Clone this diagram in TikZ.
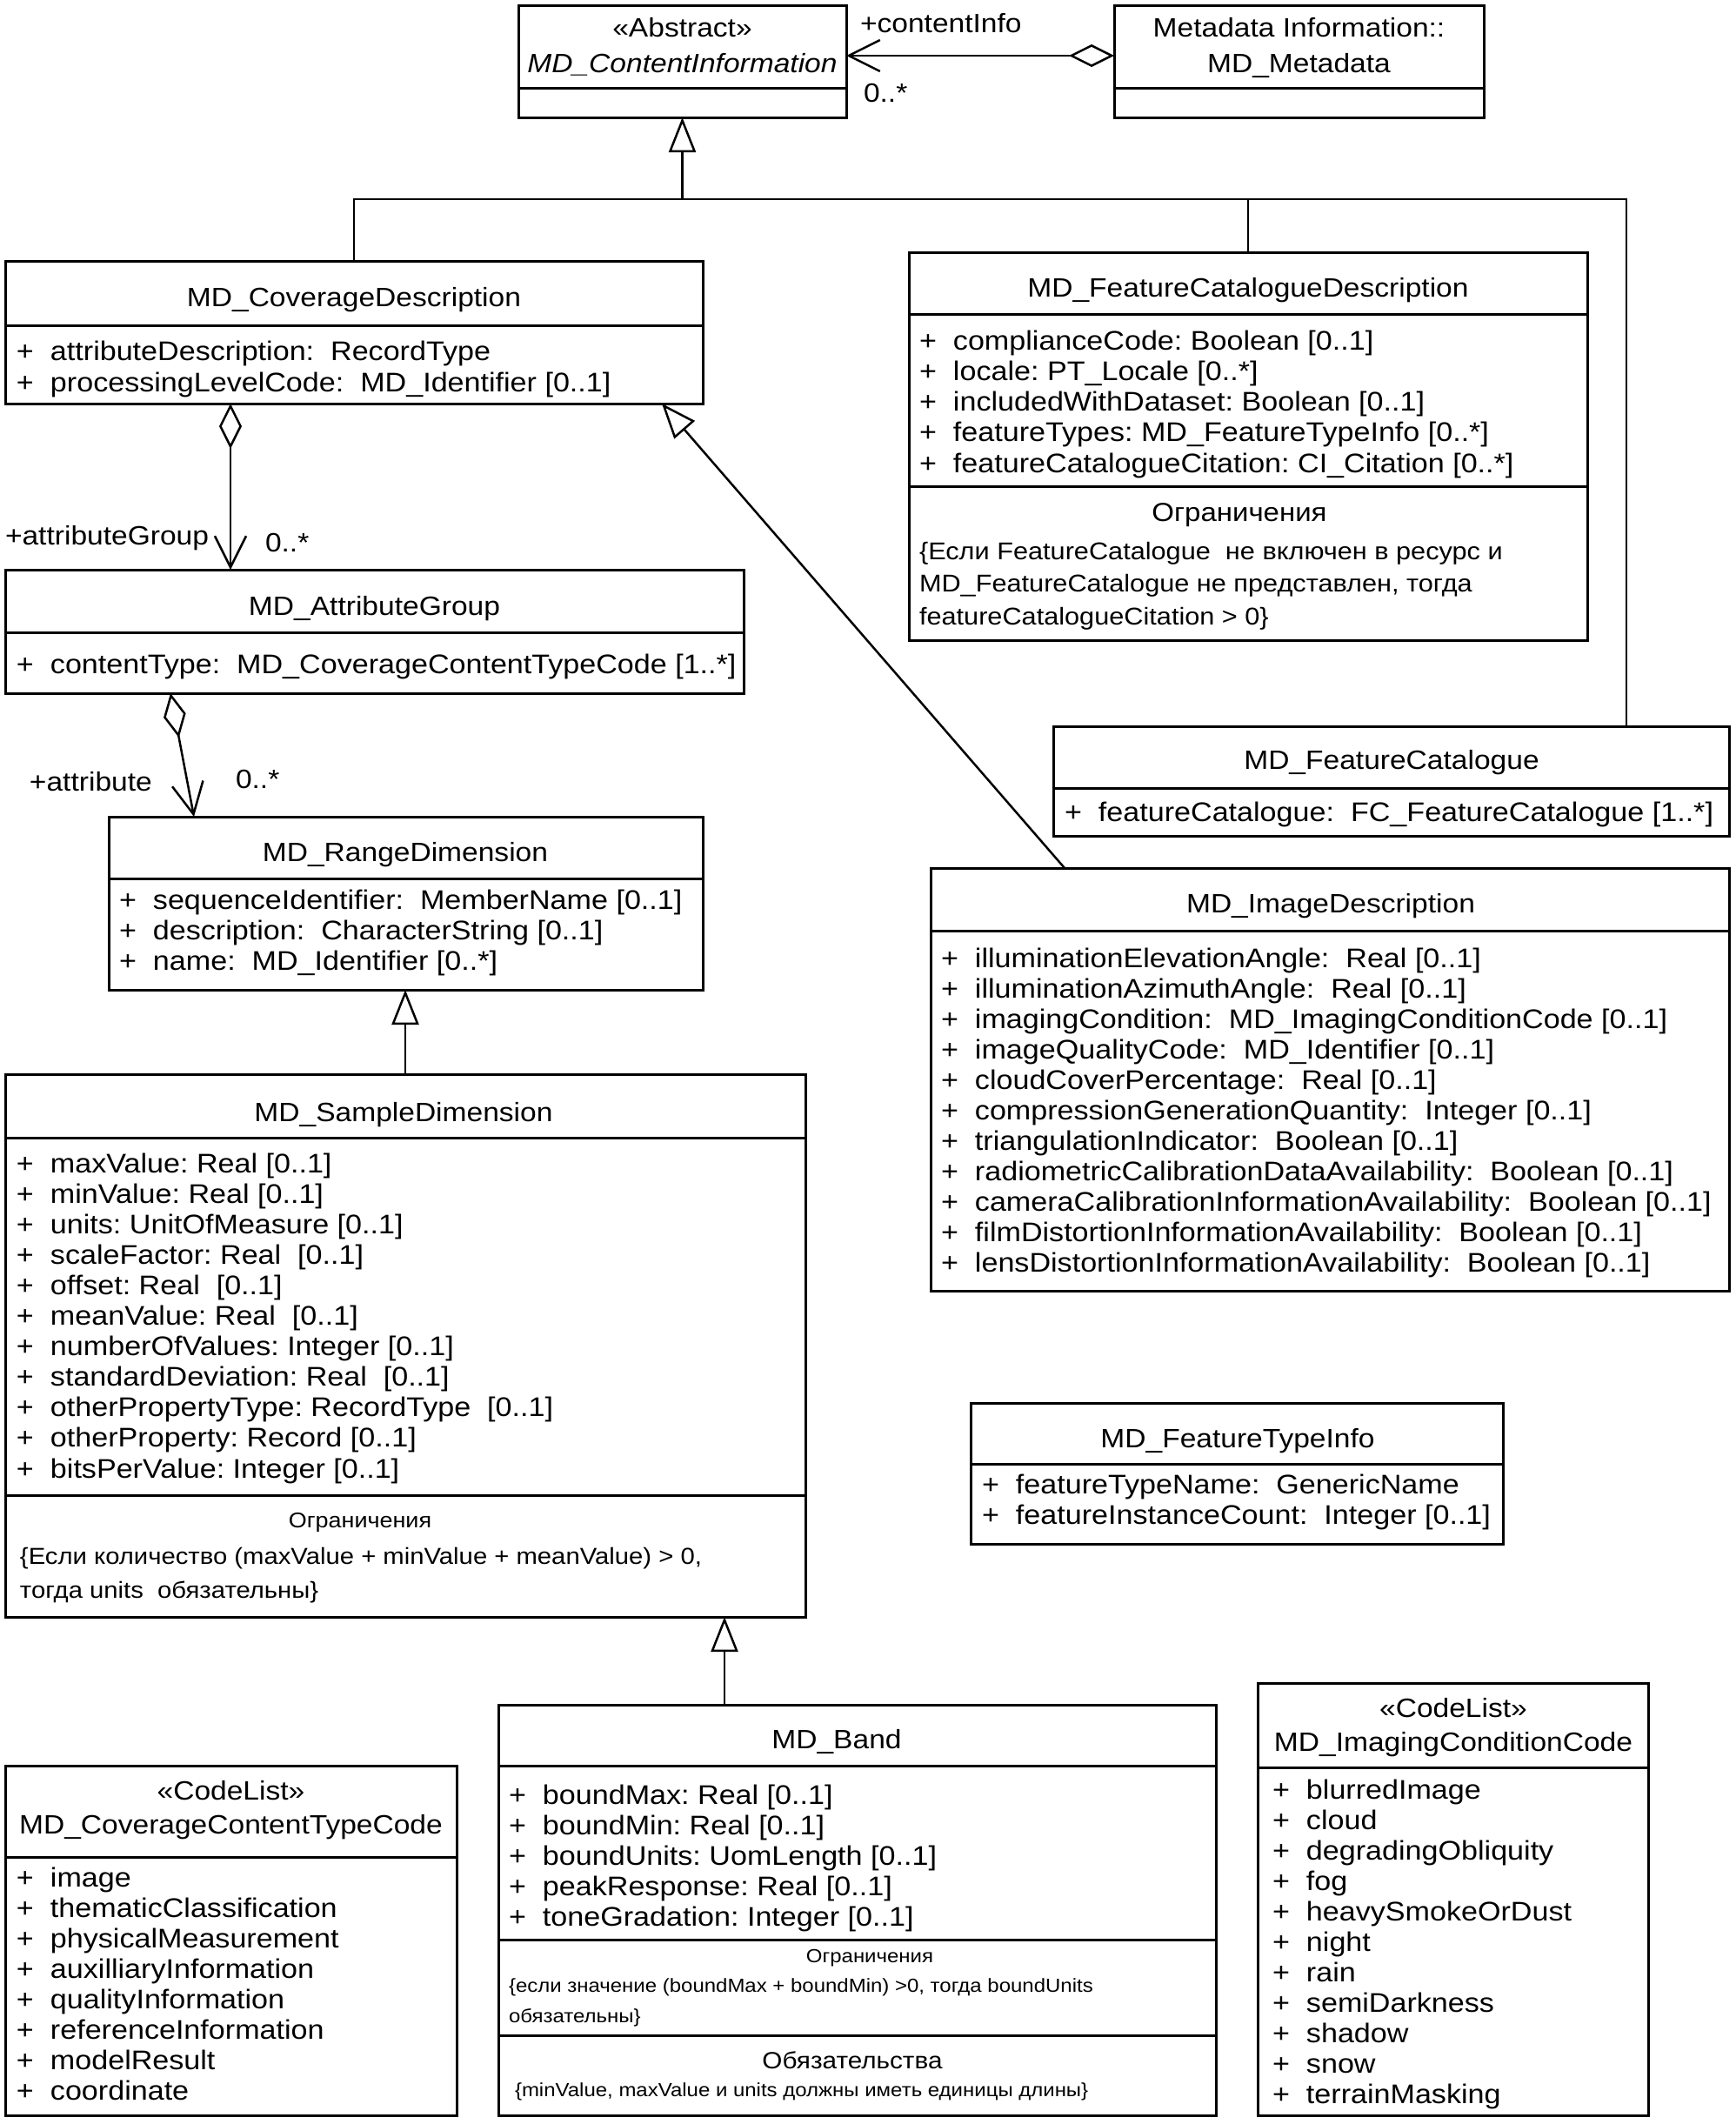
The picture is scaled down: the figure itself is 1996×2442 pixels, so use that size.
\documentclass[tikz,border=0pt]{standalone}
\usepackage{fontspec}
\setmainfont{Liberation Sans}[FakeStretch=1.1]
\usetikzlibrary{arrows.meta}
\newcommand{\attrlist}[5]{%
  \foreach \itm [count=\n] in {#5} {
    \node[txt, anchor=base west, font=\fontsize{31}{35}\selectfont] (#1-\n) at (#2, {#3+#4*(\n-1)}) {\makebox[39pt][l]{+}\itm};
  }}
\begin{document}
\begin{tikzpicture}[x=1pt, y=-1pt,
  box/.style={draw, line width=3pt, inner sep=0pt, outer sep=0pt, anchor=north west},
  sepline/.style={line width=3pt},
  txt/.style={inner sep=0pt, outer sep=0pt, font=\fontsize{30.5}{35}\selectfont},
  conn/.style={line width=2.5pt},
  gen/.style={conn, -{Triangle[open, length=40pt, width=31pt]}},
  agg/.style={conn, {Diamond[open, length=52pt, width=26pt]}-{Straight Barb[length=36pt, width=36pt]}},
]
\fill[white] (0,0) rectangle (1996,2442);
\useasboundingbox (0,0) rectangle (1996,2442);

% ---------- boxes ----------
\node[box, minimum width=377pt, minimum height=129pt] (ci) at (596,6) {};
\draw[sepline] (ci.west |- 0,101) -- (ci.east |- 0,101);
\node[box, minimum width=425pt, minimum height=129pt] (md) at (1281,6) {};
\draw[sepline] (md.west |- 0,101) -- (md.east |- 0,101);
\node[box, minimum width=802pt, minimum height=164pt] (cov) at (6,300) {};
\draw[sepline] (cov.west |- 0,374) -- (cov.east |- 0,374);
\node[box, minimum width=780pt, minimum height=446pt] (fcd) at (1045,290) {};
\draw[sepline] (fcd.west |- 0,361) -- (fcd.east |- 0,361);
\draw[sepline] (fcd.west |- 0,559) -- (fcd.east |- 0,559);
\node[box, minimum width=849pt, minimum height=142pt] (ag) at (6,655) {};
\draw[sepline] (ag.west |- 0,727) -- (ag.east |- 0,727);
\node[box, minimum width=777pt, minimum height=126pt] (fc) at (1211,835) {};
\draw[sepline] (fc.west |- 0,906) -- (fc.east |- 0,906);
\node[box, minimum width=683pt, minimum height=199pt] (rd) at (125,939) {};
\draw[sepline] (rd.west |- 0,1010) -- (rd.east |- 0,1010);
\node[box, minimum width=918pt, minimum height=486pt] (id) at (1070,998) {};
\draw[sepline] (id.west |- 0,1070) -- (id.east |- 0,1070);
\node[box, minimum width=920pt, minimum height=624pt] (sd) at (6,1235) {};
\draw[sepline] (sd.west |- 0,1308) -- (sd.east |- 0,1308);
\draw[sepline] (sd.west |- 0,1719) -- (sd.east |- 0,1719);
\node[box, minimum width=612pt, minimum height=162pt] (fti) at (1116,1613) {};
\draw[sepline] (fti.west |- 0,1683) -- (fti.east |- 0,1683);
\node[box, minimum width=825pt, minimum height=472pt] (band) at (573,1960) {};
\draw[sepline] (band.west |- 0,2030) -- (band.east |- 0,2030);
\draw[sepline] (band.west |- 0,2230) -- (band.east |- 0,2230);
\draw[sepline] (band.west |- 0,2340) -- (band.east |- 0,2340);
\node[box, minimum width=519pt, minimum height=402pt] (cctc) at (6,2030) {};
\draw[sepline] (cctc.west |- 0,2135) -- (cctc.east |- 0,2135);
\node[box, minimum width=449pt, minimum height=497pt] (icc) at (1446,1935) {};
\draw[sepline] (icc.west |- 0,2032) -- (icc.east |- 0,2032);

% ---------- titles ----------
\node[txt, anchor=base] (ci-s) at (784.5,42) {«Abstract»};
\node[txt, anchor=base] (ci-t) at (784.5,83) {\itshape MD\_ContentInformation};
\node[txt, anchor=base] (md-s) at (1493.5,42) {Metadata Information::};
\node[txt, anchor=base] (md-t) at (1493.5,83) {MD\_Metadata};
\node[txt, anchor=base] (cov-t) at (407,352) {MD\_CoverageDescription};
\node[txt, anchor=base] (fcd-t) at (1435,341) {MD\_FeatureCatalogueDescription};
\node[txt, anchor=base] (ag-t) at (430.5,707) {MD\_AttributeGroup};
\node[txt, anchor=base] (fc-t) at (1600,884) {MD\_FeatureCatalogue};
\node[txt, anchor=base] (rd-t) at (466,990) {MD\_RangeDimension};
\node[txt, anchor=base] (id-t) at (1530,1049) {MD\_ImageDescription};
\node[txt, anchor=base] (sd-t) at (464,1289) {MD\_SampleDimension};
\node[txt, anchor=base] (fti-t) at (1423,1664) {MD\_FeatureTypeInfo};
\node[txt, anchor=base] (band-t) at (962,2010) {MD\_Band};
\node[txt, anchor=base] (cctc-s) at (265.5,2069) {«CodeList»};
\node[txt, anchor=base] (cctc-t) at (265.5,2108) {MD\_CoverageContentTypeCode};
\node[txt, anchor=base] (icc-s) at (1671,1974) {«CodeList»};
\node[txt, anchor=base] (icc-t) at (1671,2013) {MD\_ImagingConditionCode};

% ---------- attributes ----------
\attrlist{cov}{19}{414}{36}{{attributeDescription:\ \ RecordType},{processingLevelCode:\ \ MD\_Identifier [0..1]}}
\attrlist{fcd}{1057}{402}{35.3}{{complianceCode:\ Boolean [0..1]},{locale:\ PT\_Locale [0..*]},{includedWithDataset:\ Boolean [0..1]},{featureTypes:\ MD\_FeatureTypeInfo [0..*]},{featureCatalogueCitation:\ CI\_Citation [0..*]}}
\attrlist{ag}{19}{774}{35}{{contentType:\ \ MD\_CoverageContentTypeCode [1..*]}}
\attrlist{fc}{1224}{944}{35}{{featureCatalogue:\ \ FC\_FeatureCatalogue [1..*]}}
\attrlist{rd}{137}{1045}{35}{{sequenceIdentifier:\ \ MemberName [0..1]},{description:\ \ CharacterString [0..1]},{name:\ \ MD\_Identifier [0..*]}}
\attrlist{id}{1082}{1112}{35}{{illuminationElevationAngle:\ \ Real [0..1]},{illuminationAzimuthAngle:\ \ Real [0..1]},{imagingCondition:\ \ MD\_ImagingConditionCode [0..1]},{imageQualityCode:\ \ MD\_Identifier [0..1]},{cloudCoverPercentage:\ \ Real [0..1]},{compressionGenerationQuantity:\ \ Integer [0..1]},{triangulationIndicator:\ \ Boolean [0..1]},{radiometricCalibrationDataAvailability:\ \ Boolean [0..1]},{cameraCalibrationInformationAvailability:\ \ Boolean [0..1]},{filmDistortionInformationAvailability:\ \ Boolean [0..1]},{lensDistortionInformationAvailability:\ \ Boolean [0..1]}}
\attrlist{sd}{19}{1348}{35.1}{{maxValue:\ Real [0..1]},{minValue:\ Real [0..1]},{units:\ UnitOfMeasure [0..1]},{scaleFactor:\ Real\ \ [0..1]},{offset:\ Real\ \ [0..1]},{meanValue:\ Real\ \ [0..1]},{numberOfValues:\ Integer [0..1]},{standardDeviation:\ Real\ \ [0..1]},{otherPropertyType:\ RecordType\ \ [0..1]},{otherProperty:\ Record [0..1]},{bitsPerValue:\ Integer [0..1]}}
\attrlist{fti}{1129}{1717}{35}{{featureTypeName:\ \ GenericName},{featureInstanceCount:\ \ Integer [0..1]}}
\attrlist{band}{585}{2074}{35}{{boundMax:\ Real [0..1]},{boundMin:\ Real [0..1]},{boundUnits:\ UomLength [0..1]},{peakResponse:\ Real [0..1]},{toneGradation:\ Integer [0..1]}}
\attrlist{cctc}{19}{2169}{35.1}{{image},{thematicClassification},{physicalMeasurement},{auxilliaryInformation},{qualityInformation},{referenceInformation},{modelResult},{coordinate}}
\attrlist{icc}{1463}{2068}{35}{{blurredImage},{cloud},{degradingObliquity},{fog},{heavySmokeOrDust},{night},{rain},{semiDarkness},{shadow},{snow},{terrainMasking}}

% ---------- constraints ----------
\node[txt, anchor=base, font=\fontsize{30}{35}\selectfont] (fcd-ch) at (1425,599) {Ограничения};
\node[txt, anchor=base west, font=\fontsize{27.9}{35}\selectfont] (fcd-c1) at (1057,643) {\{Если FeatureCatalogue\ \ не включен в ресурс и};
\node[txt, anchor=base west, font=\fontsize{27.9}{35}\selectfont] (fcd-c2) at (1057,680) {MD\_FeatureCatalogue не представлен, тогда};
\node[txt, anchor=base west, font=\fontsize{27.9}{35}\selectfont] (fcd-c3) at (1057,718) {featureCatalogueCitation > 0\}};
\node[txt, anchor=base, font=\fontsize{24.5}{35}\selectfont] (sd-ch) at (414,1756) {Ограничения};
\node[txt, anchor=base west, font=\fontsize{26.6}{35}\selectfont] (sd-c1) at (23,1798) {\{Если количество (maxValue + minValue + meanValue) > 0,};
\node[txt, anchor=base west, font=\fontsize{26.6}{35}\selectfont] (sd-c2) at (23,1837) {тогда units\ \ обязательны\}};
\node[txt, anchor=base, font=\fontsize{21.8}{30}\selectfont] (band-ch) at (1000,2256) {Ограничения};
\node[txt, anchor=base west, font=\fontsize{21.8}{30}\selectfont] (band-c1) at (585,2290) {\{если значение (boundMax + boundMin) >0, тогда boundUnits};
\node[txt, anchor=base west, font=\fontsize{21.8}{30}\selectfont] (band-c2) at (585,2325) {обязательны\}};
\node[txt, anchor=base, font=\fontsize{27}{35}\selectfont] (band-oh) at (980,2378) {Обязательства};
\node[txt, anchor=base west, font=\fontsize{21.8}{30}\selectfont] (band-o1) at (592,2410) {\{minValue, maxValue и units должны иметь единицы длины\}};

% ---------- connectors ----------
\coordinate (bus) at (783,229);
\draw[conn] (cov.north) |- (1870,229) -- (1870,0 |- fc.north);
\draw[conn] (fcd.north) -- (fcd.north |- bus);
\draw[gen] (ci.south |- bus) -- (ci.south);
\draw[gen] (1224,0 |- id.north) -- (761,0 |- cov.south);
\draw[gen] (466,0 |- sd.north) -- (466,0 |- rd.south);
\draw[gen] (833,0 |- band.north) -- (833,0 |- sd.south);
\draw[agg] (md.west |- 0,64) -- (ci.east |- 0,64);
\draw[agg] (265,0 |- cov.south) -- (265,0 |- ag.north);
\draw[agg] (196,0 |- ag.south) -- (223,0 |- rd.north);

% ---------- role labels ----------
\node[txt, anchor=base west] (l-ci-role) at (989,37) {+contentInfo};
\node[txt, anchor=base west] (l-ci-mult) at (993,117) {0..*};
\node[txt, anchor=base west] (l-ag-role) at (6,626) {+attributeGroup};
\node[txt, anchor=base west] (l-ag-mult) at (305,634) {0..*};
\node[txt, anchor=base west] (l-rd-role) at (34,909) {+attribute};
\node[txt, anchor=base west] (l-rd-mult) at (271,906) {0..*};
\end{tikzpicture}
\end{document}
